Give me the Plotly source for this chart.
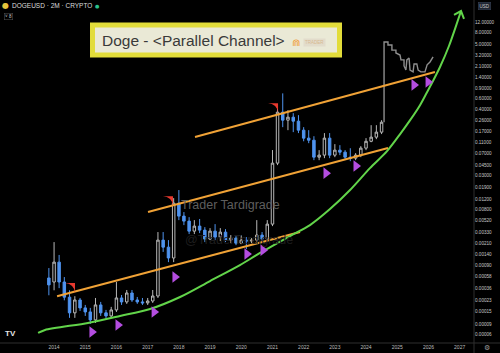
import math
import pandas as pd
import plotly.graph_objects as go

# ---------------- data ----------------
candle_open = [0.00055, 0.00047, 0.00102, 0.00047, 0.00026, 0.000141, 0.000233, 0.000171, 0.000146, 0.000107,
               0.000192, 0.000141, 0.000125, 0.000158, 0.000252, 0.000216, 0.000306, 0.000233, 0.000216, 0.000208,
               0.000224, 0.000272, 0.00241, 0.00183, 0.0012, 0.0102, 0.00615, 0.00506, 0.00342, 0.00416,
               0.00356, 0.00251, 0.00342, 0.00271, 0.00329, 0.00241, 0.00261, 0.00214, 0.00241, 0.00232,
               0.00241, 0.00293, 0.00251, 0.0045, 0.0486, 0.355, 0.26, 0.292, 0.25, 0.176,
               0.129, 0.119, 0.0614, 0.0664, 0.129, 0.0664, 0.0807, 0.0746, 0.0614, 0.059,
               0.0664, 0.0873, 0.114, 0.134, 0.163]
candle_high = [0.00081, 0.00223, 0.00135, 0.00057, 0.00034, 0.00027, 0.000252, 0.000192, 0.000171, 0.000252,
               0.000216, 0.000158, 0.000178, 0.00047, 0.000283, 0.000344, 0.000344, 0.000262, 0.000252, 0.000252,
               0.000344, 0.0033, 0.0033, 0.00241, 0.0124, 0.017, 0.0072, 0.0059, 0.00526, 0.0055,
               0.0040, 0.00385, 0.0045, 0.00385, 0.0037, 0.00293, 0.00282, 0.00293, 0.00271, 0.00261,
               0.00526, 0.0033, 0.00526, 0.081, 0.467, 0.74, 0.384, 0.342, 0.316, 0.198,
               0.176, 0.139, 0.0807, 0.157, 0.157, 0.102, 0.098, 0.0807, 0.087, 0.0718,
               0.0943, 0.129, 0.214, 0.214, 0.26]
candle_low = [0.00028, 0.00034, 0.00037, 0.00023, 0.000116, 0.000116, 0.000152, 0.000125, 0.0000915, 0.0000952,
              0.000125, 0.000111, 0.000116, 0.000146, 0.000192, 0.0002, 0.000216, 0.0002, 0.000192, 0.000192,
              0.000208, 0.000252, 0.00152, 0.00102, 0.00102, 0.00526, 0.00433, 0.00305, 0.00305, 0.00317,
              0.00223, 0.00241, 0.00241, 0.00232, 0.00223, 0.00214, 0.00198, 0.00206, 0.0017, 0.00214,
              0.00223, 0.00232, 0.00241, 0.00416, 0.045, 0.198, 0.176, 0.163, 0.157, 0.114,
              0.106, 0.0546, 0.0546, 0.059, 0.059, 0.0614, 0.0664, 0.0568, 0.0525, 0.0546,
              0.0614, 0.0807, 0.11, 0.124, 0.151]
candle_close = [0.00042, 0.00102, 0.00047, 0.00026, 0.000141, 0.000233, 0.000171, 0.000146, 0.000107, 0.000192,
                0.000141, 0.000125, 0.000158, 0.000252, 0.000216, 0.000306, 0.000233, 0.000216, 0.000208, 0.000224,
                0.000272, 0.00241, 0.00183, 0.0012, 0.0102, 0.00615, 0.00506, 0.00342, 0.00416, 0.00356,
                0.00251, 0.00342, 0.00271, 0.00329, 0.00241, 0.00261, 0.00214, 0.00241, 0.00232, 0.00241,
                0.00293, 0.00251, 0.0045, 0.0486, 0.355, 0.26, 0.292, 0.25, 0.176, 0.129,
                0.119, 0.0614, 0.0664, 0.129, 0.0664, 0.0807, 0.0746, 0.0614, 0.059, 0.0664,
                0.0873, 0.114, 0.134, 0.163, 0.24]
candle_dates = pd.date_range("2013-11-01", periods=len(candle_open), freq="2MS")

# projected path (grey line)
proj_dates = ["2024-07-30", "2024-07-30", "2024-09-14", "2024-09-14", "2024-10-30", "2024-10-30", "2024-12-16",
              "2024-12-16", "2025-02-02", "2025-02-13", "2025-03-21", "2025-03-21", "2025-04-12", "2025-04-23",
              "2025-05-19", "2025-05-30", "2025-07-05", "2025-07-16", "2025-08-18", "2025-09-02", "2025-10-04",
              "2025-11-21", "2025-12-16", "2026-01-19", "2026-02-24"]
proj_price = [0.24, 5.5, 5.5, 4.9, 4.9, 4.0, 4.0, 3.58, 3.3, 2.73, 2.73, 2.16, 1.84, 2.73,
              2.95, 1.84, 1.71, 2.33, 2.33, 1.84, 1.71, 1.71, 2.25, 2.52, 3.06]

# three parallel channel lines
chan_a_dates = ["2014-02-05", "2021-11-20"]
chan_a_price = [0.00027, 0.0033]
chan_b_dates = ["2017-01-05", "2024-09-14"]
chan_b_price = [0.0072, 0.0877]
chan_c_dates = ["2018-07-09", "2026-03-18"]
chan_c_price = [0.135, 1.70]

# green support curve
curve_dates = ["2013-06-28", "2013-09-17", "2015-02-02", "2016-02-12", "2017-01-29", "2018-01-15", "2019-01-01",
               "2019-12-17", "2020-08-08", "2021-07-25", "2022-03-16", "2022-11-05", "2023-06-28", "2024-02-16",
               "2024-09-03", "2025-02-03", "2025-05-31", "2025-09-24", "2025-12-15", "2026-02-23", "2026-05-16",
               "2026-08-29", "2026-11-07", "2027-01-17"]
curve_price = [0.0000643, 0.0000724, 0.0000952, 0.000125, 0.000164, 0.000262, 0.000488, 0.000909, 0.00146,
               0.00282, 0.00433, 0.00808, 0.017, 0.04, 0.0776, 0.151, 0.26, 0.467, 0.775, 1.2, 2.07, 4.7, 9.1, 18.4]
arrow_dates = ["2026-10-27", "2027-01-17", "2027-02-21"]
arrow_price = [15.8, 18.4, 13.5]

# purple touch markers
touch_dates = ["2015-03-20", "2016-01-19", "2017-03-17", "2017-11-16", "2020-03-08", "2020-09-12",
               "2022-09-19", "2023-09-06", "2025-07-16", "2025-12-27"]
touch_price = [0.0000669, 0.000088, 0.000146, 0.00057, 0.0014, 0.00163, 0.0329, 0.0433, 1.03, 1.15]

# red top markers
top_dates = ["2014-09-03", "2017-10-24", "2021-03-07"]
top_price = [0.000452, 0.0134, 0.505]

years = list(range(2014, 2028))
ytick_vals = [12, 8, 5, 3.2, 2.1, 1.4, 0.9, 0.6, 0.4, 0.26, 0.17, 0.11, 0.07, 0.045, 0.03, 0.019, 0.012,
              0.008, 0.0052, 0.0033, 0.0021, 0.0014, 0.0009, 0.00058, 0.00036, 0.00023, 0.00015, 0.00009, 0.00006]

# ---------------- figure ----------------
W, H = 500, 353
PLOT_R = 474
PLOT_B = 343
FONT = "Liberation Sans"

fig = go.Figure()
fig.add_trace(go.Candlestick(
    x=candle_dates, open=candle_open, high=candle_high, low=candle_low, close=candle_close,
    increasing=dict(line=dict(color="#b8b8b8", width=1), fillcolor="#000000"),
    decreasing=dict(line=dict(color="#4f93ee", width=1), fillcolor="#4f93ee"),
    whiskerwidth=0, hoverinfo="skip"))

fig.add_trace(go.Scatter(x=proj_dates, y=proj_price, mode="lines",
                         line=dict(color="#8e8e8e", width=1.4), hoverinfo="skip"))

for d, p in [(chan_a_dates, chan_a_price), (chan_b_dates, chan_b_price), (chan_c_dates, chan_c_price)]:
    fig.add_trace(go.Scatter(x=d, y=p, mode="lines", line=dict(color="#f0a236", width=2), hoverinfo="skip"))

fig.add_trace(go.Scatter(x=curve_dates, y=curve_price, mode="lines",
                         line=dict(color="#62d44a", width=2, shape="spline", smoothing=0.8), hoverinfo="skip"))
fig.add_trace(go.Scatter(x=arrow_dates, y=arrow_price, mode="lines",
                         line=dict(color="#62d44a", width=2), hoverinfo="skip"))

fig.add_trace(go.Scatter(x=touch_dates, y=touch_price, mode="markers",
                         marker=dict(symbol="triangle-right", size=10, color="#b44de0", line=dict(width=0)),
                         hoverinfo="skip"))
fig.add_trace(go.Scatter(x=top_dates, y=top_price, mode="markers",
                         marker=dict(symbol="arrow-wide", angle=45, size=10, color="#e8392e", line=dict(width=0)),
                         hoverinfo="skip"))

ann = []
# watermark
ann.append(dict(xref="paper", yref="paper", x=179 / W, y=1 - 205 / H, xanchor="left", yanchor="middle",
                text="Trader Tardigrade", showarrow=False, font=dict(size=12.5, color="#5e5e5e", family=FONT)))
ann.append(dict(xref="paper", yref="paper", x=183 / W, y=1 - 240 / H, xanchor="left", yanchor="middle",
                text="@TraderTardigrade", showarrow=False, font=dict(size=12.5, color="#1e1e1e", family=FONT)))
# title box text
ann.append(dict(xref="paper", yref="paper", x=100 / W, y=1 - 41 / H, xanchor="left", yanchor="middle",
                text="Doge - &lt;Parallel Channel&gt;", showarrow=False,
                font=dict(size=15.5, color="#3a3a3a", family=FONT)))
ann.append(dict(xref="paper", yref="paper", x=296 / W, y=1 - 42 / H, xanchor="center", yanchor="middle",
                text="⋒", showarrow=False, font=dict(size=10, color="#f0a040", family="DejaVu Sans")))
ann.append(dict(xref="paper", yref="paper", x=314 / W, y=1 - 42 / H, xanchor="center", yanchor="middle",
                text="TRADER", showarrow=False, bgcolor="#e2dccb",
                font=dict(size=4.5, color="#d8b890", family=FONT)))
# header
ann.append(dict(xref="paper", yref="paper", x=5 / W, y=1 - 6 / H, xanchor="center", yanchor="middle",
                text="●", showarrow=False, font=dict(size=8, color="#e6c43c", family="DejaVu Sans")))
ann.append(dict(xref="paper", yref="paper", x=10 / W, y=1 - 6 / H, xanchor="left", yanchor="middle",
                text="DOGEUSD · 2M · CRYPTO", showarrow=False, font=dict(size=6.5, color="#dcdcdc", family=FONT)))
ann.append(dict(xref="paper", yref="paper", x=97 / W, y=1 - 6 / H, xanchor="center", yanchor="middle",
                text="●", showarrow=False, font=dict(size=5, color="#2bc08c", family="DejaVu Sans")))
ann.append(dict(xref="paper", yref="paper", x=8 / W, y=1 - 16 / H, xanchor="center", yanchor="middle",
                text="˅ 8", showarrow=False, bordercolor="#555555", borderwidth=0.5, borderpad=0.5,
                font=dict(size=4.5, color="#cccccc", family=FONT)))
# USD label, gear, TV logo
ann.append(dict(xref="paper", yref="paper", x=484 / W, y=1 - 6 / H, xanchor="center", yanchor="middle",
                text="USD", showarrow=False, bgcolor="#1f2633", bordercolor="#3a4458", borderwidth=0.5,
                borderpad=1, font=dict(size=4.5, color="#c8c8c8", family=FONT)))
ann.append(dict(xref="paper", yref="paper", x=487 / W, y=1 - 348 / H, xanchor="center", yanchor="middle",
                text="⚙", showarrow=False, font=dict(size=7, color="#9a9a9a", family="DejaVu Sans")))
ann.append(dict(xref="paper", yref="paper", x=10 / W, y=1 - 333 / H, xanchor="center", yanchor="middle",
                text="<b>TV</b>", showarrow=False, font=dict(size=8, color="#e6e6e6", family=FONT)))

shapes = [
    dict(type="rect", xref="paper", yref="paper", x0=92.5 / W, x1=339.5 / W, y0=1 - 25 / H, y1=1 - 55 / H,
         line=dict(color="#e2dc3a", width=5), fillcolor="#eae9d6", layer="above"),
    dict(type="line", xref="paper", yref="paper", x0=PLOT_R / W, x1=PLOT_R / W, y0=0, y1=1,
         line=dict(color="#2e2e2e", width=1)),
    dict(type="line", xref="paper", yref="paper", x0=0, x1=1, y0=1 - PLOT_B / H, y1=1 - PLOT_B / H,
         line=dict(color="#2e2e2e", width=1)),
]

y_lo = math.log10(0.03) - (PLOT_B - 175.5) / 59
y_hi = math.log10(0.03) + 175.5 / 59

fig.update_layout(
    width=W, height=H, margin=dict(l=0, r=0, t=0, b=0),
    paper_bgcolor="#000000", plot_bgcolor="#000000", showlegend=False,
    font=dict(family=FONT),
    xaxis=dict(domain=[0, PLOT_R / W], range=["2012-04-08", "2027-06-18"],
               tickvals=[f"{y}-01-01" for y in years], ticktext=[str(y) for y in years],
               showgrid=False, zeroline=False, ticks="", showline=False,
               tickfont=dict(size=5, color="#bdbdbd", family=FONT), rangeslider=dict(visible=False)),
    yaxis=dict(type="log", domain=[1 - PLOT_B / H, 1], range=[y_lo, y_hi], side="right",
               tickvals=ytick_vals, ticktext=[f"{v:.5f}" for v in ytick_vals],
               showgrid=False, zeroline=False, ticks="", showline=False,
               tickfont=dict(size=4.6, color="#c8c8c8", family=FONT)),
    annotations=ann, shapes=shapes,
)

fig.write_html("out.html")
